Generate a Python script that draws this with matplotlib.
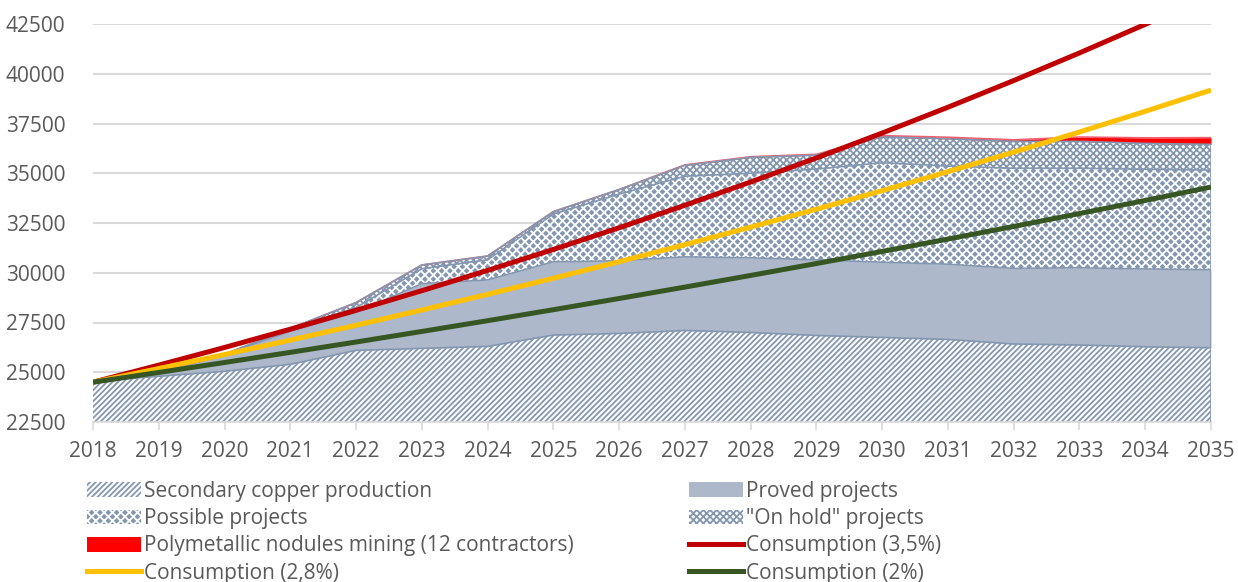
import numpy as np
import matplotlib
matplotlib.use("Agg")
import matplotlib.pyplot as plt
from matplotlib.lines import Line2D
from matplotlib.patches import Patch

## Data (kt) ##
years = list(range(2018, 2036))

secondary = [24550, 24800, 25050, 25400, 26100, 26200, 26300, 26870, 26950,
             27100, 27000, 26850, 26750, 26650, 26420, 26370, 26280, 26230]
proved = [0, 150, 850, 1650, 1900, 3250, 3340, 3680, 3650,
          3700, 3750, 3800, 3780, 3780, 3800, 3880, 3910, 3920]
possible = [0, 0, 0, 100, 250, 750, 1010, 2400, 3350,
            4050, 4250, 4560, 5000, 4930, 5030, 5000, 5010, 5010]
on_hold = [0, 0, 0, 50, 250, 190, 190, 120, 230,
           550, 800, 700, 1300, 1370, 1350, 1350, 1300, 1290]
nodules = [0, 0, 0, 0, 0, 0, 0, 0, 0,
           20, 30, 40, 60, 80, 80, 220, 280, 340]

cons_35 = [24500, 25358, 26245, 27164, 28114, 29098, 30117, 31171, 32262,
           33391, 34560, 35769, 37021, 38317, 39658, 41046, 42483, 43970]
cons_28 = [24500, 25186, 25891, 26616, 27361, 28128, 28915, 29725, 30557,
           31413, 32292, 33196, 34126, 35081, 36064, 37074, 38112, 39179]
cons_2 = [24500, 24990, 25490, 26000, 26520, 27050, 27591, 28143, 28706,
          29280, 29865, 30463, 31072, 31693, 32327, 32974, 33633, 34306]

area_labels = ['Secondary copper production', 'Proved projects', 'Possible projects',
               '"On hold" projects', 'Polymetallic nodules mining (12 contractors)']
line_labels = ['Consumption (3,5%)', 'Consumption (2,8%)', 'Consumption (2%)']

## Styles ##
EDGE = '#8497B0'
# (facecolor, hatch colour, hatch, edge line colour)
area_styles = [
    ('white', EDGE, '//////', EDGE),
    ('#ADB9CA', '#ADB9CA', None, EDGE),
    ('#8497B0', 'white', 'xxxx', EDGE),
    ('white', EDGE, 'xxxxx', EDGE),
    ('#FF0000', '#FF0000', None, '#F06070'),
]
line_colors = ['#C00000', '#FFC000', '#375623']

plt.rcParams['font.family'] = ['Open Sans', 'DejaVu Sans']
plt.rcParams['hatch.linewidth'] = 1.3

fig = plt.figure(figsize=(12.38, 5.82), dpi=100)
ax = fig.add_axes([93/1238, 1-422/582, (1211-93)/1238, (422-24)/582])

x = np.array(years)
series = [secondary, proved, possible, on_hold, nodules]
base = np.zeros(len(years))
handles = []
for i, (vals, (fc, hc, h, ec), lab) in enumerate(zip(series, area_styles, area_labels)):
    top = base + np.array(vals)
    ax.fill_between(x, base, top, facecolor=fc, edgecolor=hc, hatch=h,
                    linewidth=0, zorder=2)
    # nodules edge sits under the blue edges so it only shows where it is wider
    ax.plot(x, top, color=ec, lw=1.2, zorder=3 if i < 4 else 2.5)
    handles.append(Patch(facecolor=fc, edgecolor=hc, hatch=h, linewidth=0, label=lab))
    base = top
# right-hand edge of the stack
ax.vlines(years[-1], 22500, base[-1] - nodules[-1], color=EDGE, lw=1.2, zorder=3)

lhandles = []
for vals, c, lab in zip([cons_35, cons_28, cons_2], line_colors, line_labels):
    ax.plot(x, vals, color=c, lw=3.6, solid_capstyle='butt', zorder=4)
    lhandles.append(Line2D([], [], color=c, lw=3.6, label=lab))

ax.set_xlim(2018, 2035)
ax.set_ylim(22500, 42500)
ax.set_yticks(np.arange(22500, 42501, 2500))
ax.set_xticks(years)
ax.grid(axis='y', color='#D9D9D9', lw=1.5, zorder=0)
ax.set_axisbelow(True)
for s in ['left', 'right', 'top']:
    ax.spines[s].set_visible(False)
ax.spines['bottom'].set_color('#D9D9D9')
ax.spines['bottom'].set_linewidth(1.2)
ax.tick_params(axis='y', length=0, pad=20, labelsize=15, labelcolor='#595959')
ax.tick_params(axis='x', length=6, width=1.2, color='#D9D9D9', pad=8,
               labelsize=15, labelcolor='#595959')

# legend: 2 columns, filled column-wise
order = [handles[0], handles[2], handles[4], lhandles[1],
         handles[1], handles[3], lhandles[0], lhandles[2]]
leg = fig.legend(handles=order, loc='upper left', ncol=2,
                 bbox_to_anchor=(87/1238, 1-481/582), frameon=False,
                 fontsize=15, handlelength=2.6, handleheight=0.7, handletextpad=0.15,
                 columnspacing=5.5, labelspacing=0.3, borderpad=0, borderaxespad=0)
for t in leg.get_texts():
    t.set_color('#595959')

fig.savefig('out.png', dpi=100)
